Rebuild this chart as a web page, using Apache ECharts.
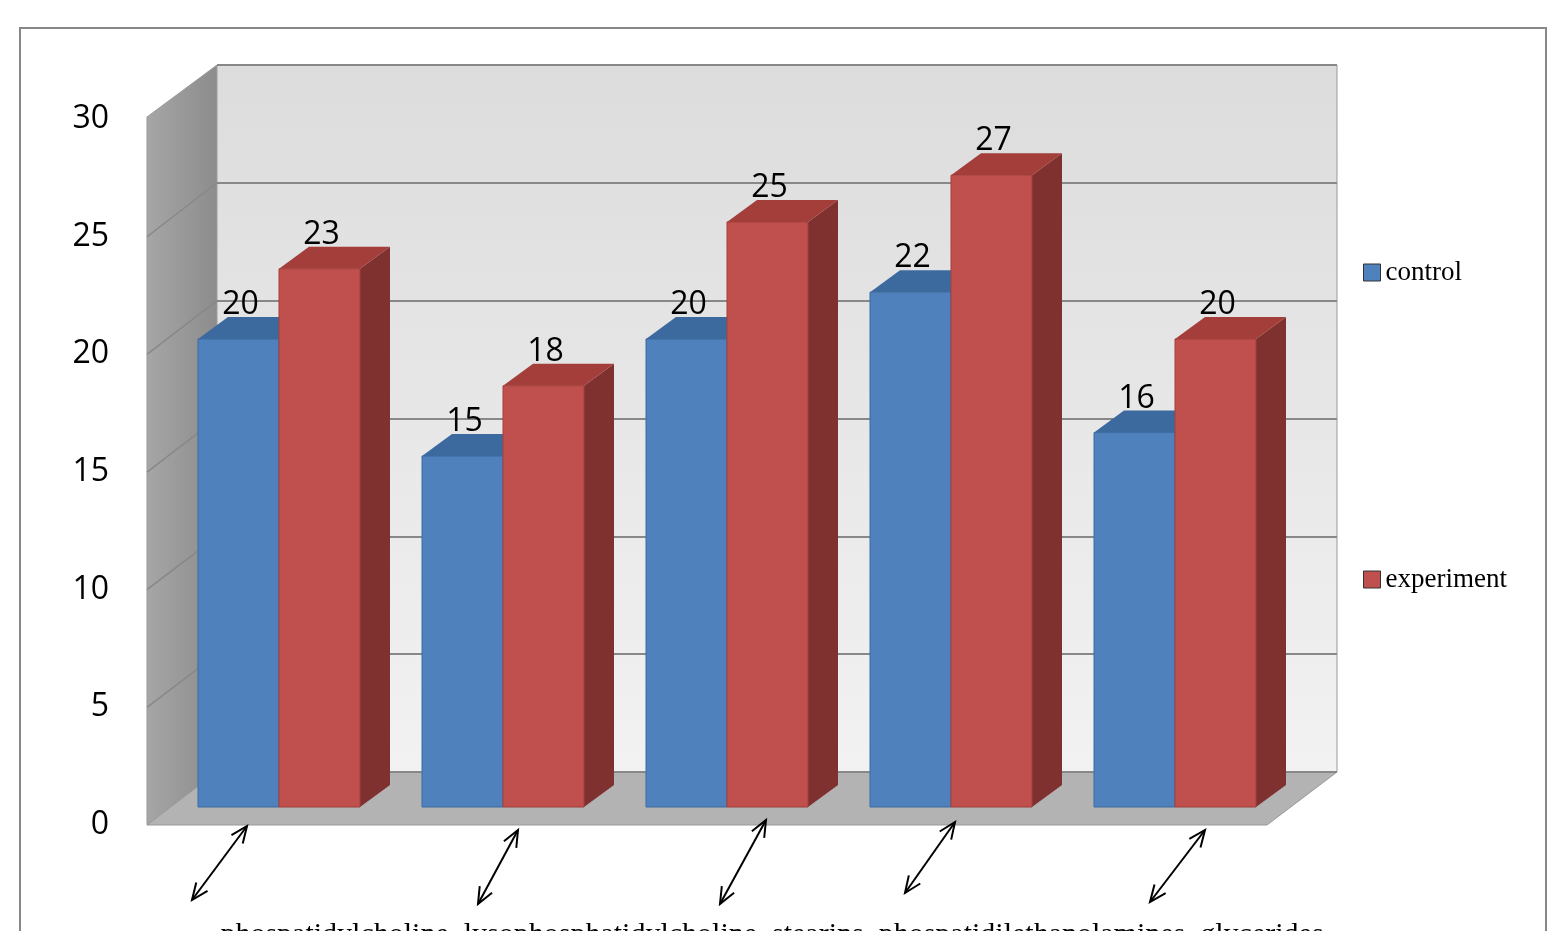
<!DOCTYPE html><html><head><meta charset="utf-8"><script src="https://cdn.jsdelivr.net/npm/echarts@6/dist/echarts.min.js"></script>
<style>html,body{margin:0;background:#fff}#c{width:1566px;height:931px}</style></head><body><div id="c"></div><script>
const categories=['phospatidylcholine','lysophosphatidylcholine','stearins','phospatidilethanolamines','glycerides'];
const control=[20,15,20,22,16];
const experiment=[23,18,25,27,20];
const yTicks=[0,5,10,15,20,25,30];
const chart=echarts.init(document.getElementById('c'));
const DX=30,DY=-22,BW=81;
function bar3d(off,cf,ct,cs){return function(params,api){
  const p=api.coord([api.value(0),api.value(1)]);const b=api.coord([api.value(0),0]);
  const x0=p[0]+off,x1=x0+BW,y0=p[1],y1=b[1];
  return {type:'group',children:[
   {type:'polygon',shape:{points:[[x1,y0],[x1+DX,y0+DY],[x1+DX,y1+DY],[x1,y1]]},style:{fill:cs}},
   {type:'polygon',shape:{points:[[x0,y0],[x0+DX,y0+DY],[x1+DX,y0+DY],[x1,y0]]},style:{fill:ct}},
   {type:'rect',shape:{x:x0,y:y0,width:BW,height:y1-y0},style:{fill:cf,stroke:ct,lineWidth:1}},
   {type:'text',x:x0+BW/2+2,y:y0+DY+4,style:{text:String(api.value(1)),font:'32px "Open Sans"',fill:'#000',textAlign:'center',textVerticalAlign:'bottom'}}
  ]};};}
const g=[];
g.push({type:'rect',shape:{x:20,y:28,width:1526,height:960},style:{fill:'none',stroke:'#888',lineWidth:2},z:-10});
g.push({type:'polygon',shape:{points:[[147,117],[217,65],[217,772],[147,825]]},style:{fill:new echarts.graphic.LinearGradient(0,0,1,0,[{offset:0,color:'#a6a6a6'},{offset:1,color:'#8c8c8c'}]),stroke:'#999'},z:-5});
g.push({type:'rect',shape:{x:217,y:65,width:1120,height:707},style:{fill:new echarts.graphic.LinearGradient(0,0,0,1,[{offset:0,color:'#dcdcdc'},{offset:1,color:'#f2f2f2'}]),stroke:'#999'},z:-5});
g.push({type:'polygon',shape:{points:[[147,825],[217,772],[1337,772],[1267,825]]},style:{fill:'#b3b3b3',stroke:'#999'},z:-5});
yTicks.slice(1,-1).forEach(t=>{const yb=772-t*23.57,yf=825-t*23.53;
 g.push({type:'line',shape:{x1:147,y1:yf,x2:217,y2:yb},style:{stroke:'#888',lineWidth:1.5},z:-4});});
const arrows=[[192,900,247,826],[478,904,518,830],[720,904,766,820],[905,893,955,822],[1150,902,1205,830]];
arrows.forEach(a=>{const ang=Math.atan2(a[3]-a[1],a[2]-a[0]);
 const head=(x,y,an)=>[[x-18*Math.cos(an-0.4),y-18*Math.sin(an-0.4)],[x,y],[x-18*Math.cos(an+0.4),y-18*Math.sin(an+0.4)]];
 g.push({type:'line',shape:{x1:a[0],y1:a[1],x2:a[2],y2:a[3]},style:{stroke:'#000',lineWidth:2}});
 g.push({type:'polyline',shape:{points:head(a[2],a[3],ang)},style:{stroke:'#000',lineWidth:2,fill:'none'}});
 g.push({type:'polyline',shape:{points:head(a[0],a[1],ang+Math.PI)},style:{stroke:'#000',lineWidth:2,fill:'none'}});});
g.push({type:'text',x:772,y:920,style:{text:categories.join('  '),font:'30px "Liberation Serif"',fill:'#000',textAlign:'center',textVerticalAlign:'top'}});
chart.setOption({animation:false,graphic:g,
 legend:{orient:'vertical',left:1358,top:254,itemGap:280,itemWidth:17,itemHeight:17,icon:'rect',itemStyle:{borderColor:'#333',borderWidth:1},textStyle:{fontFamily:'Liberation Serif',fontSize:27,color:'#000'},data:['control','experiment']},
 grid:[{left:167,right:279,top:105,bottom:124,outerBoundsMode:'none'},{left:217,right:229,top:65,bottom:159,outerBoundsMode:'none'},{left:147,width:10,top:119,bottom:106,outerBoundsMode:'none'}],
 xAxis:[{type:'category',data:categories,gridIndex:0,axisLine:{show:false},axisTick:{show:false},axisLabel:{show:false}},
  {type:'value',gridIndex:1,show:false},{type:'value',gridIndex:2,show:false}],
 yAxis:[{type:'value',min:0,max:30,interval:5,gridIndex:0,show:false},
  {type:'value',min:0,max:30,interval:5,gridIndex:1,axisLabel:{show:false},axisLine:{show:false},axisTick:{show:false},splitLine:{lineStyle:{color:'#888',width:2}}},
  {type:'value',min:0,max:30,interval:5,gridIndex:2,axisLine:{show:false},axisTick:{show:false},splitLine:{show:false},axisLabel:{margin:38,fontFamily:'Open Sans',fontSize:32,color:'#000'}}],
 series:[
  {name:'control',type:'custom',xAxisIndex:0,yAxisIndex:0,itemStyle:{color:'#4f81bd'},renderItem:bar3d(-BW,'#4f81bd','#3c6a9f','#2f5585'),data:control.map((v,i)=>[i,v])},
  {name:'experiment',type:'custom',xAxisIndex:0,yAxisIndex:0,itemStyle:{color:'#c0504d'},renderItem:bar3d(0,'#c0504d','#a33e3b','#7f3130'),data:experiment.map((v,i)=>[i,v])}
 ]});
</script></body></html>
